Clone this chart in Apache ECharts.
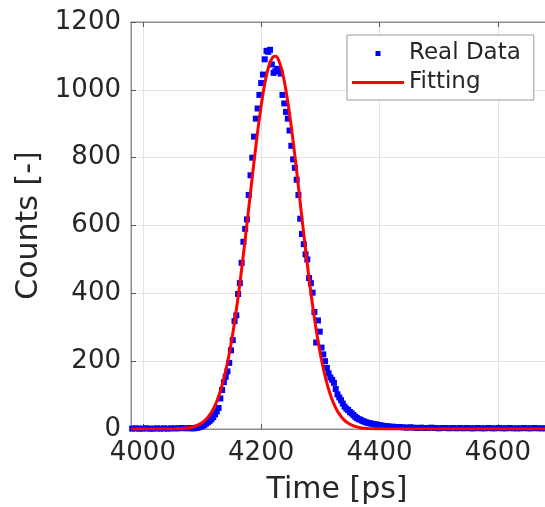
<!DOCTYPE html>
<html><head><meta charset="utf-8">
<script src="https://cdn.jsdelivr.net/npm/echarts@6/dist/echarts.min.js"></script>
<style>html,body{margin:0;padding:0;background:#fff}#c{width:545px;height:507px}</style>
</head><body><div id="c"></div>
<script>
// ---- data ----
const xTicks = [4000, 4200, 4400, 4600];
const yTicks = [0, 200, 400, 600, 800, 1000, 1200];

const dataTime = [3982,3988,3994,4000,4006,4012,4018,4024,4030,4036,4042,4048,4054,4060,4066,4072,4078,4082,
4086,4089,4092,4095,4098,4101,4104,4107,4110,4113,4116,4119,4122,4125,4128,4131,4134,4137,4140,4143,4146,4149,
4152,4155,4158,4161,4164,4167,4170,4173,4176,4179,4182,4185,4188,4191,4194,4197,4200,4203,4206,4209,4212,4215,
4218,4221,4224,4227,4230,4233,4236,4239,4242,4245,4248,4251,4254,4257,4260,4263,4266,4269,4272,4275,4278,4281,
4284,4287,4290,4293,4296,4299,4302,4305,4308,4311,4314,4317,4320,4323,4326,4329,4332,4335,4338,4341,4344,4347,
4350,4353,4356,4359,4362,4365,4368,4371,4374,4377,4380,4383,4386,4389,4392,4395,4398,4401,4404,4407,4410,4413,4416,
4422,4428,4434,4440,4446,4452,4458,4464,4470,4476,4482,4488,4494,4500,4506,4512,4518,4524,4530,4536,4542,4548,
4554,4560,4566,4572,4578,4584,4590,4596,4602,4608,4614,4620,4626,4632,4638,4644,4650,4656,4662,4668,4674,4680,
4686,4692,4698];
const dataCounts = [1,2,1,1,2,1,1,2,1,2,1,2,2,2,3,2,3,2,
2,3,4,5,7,9,12,16,20,24,29,35,43,52,62,90,115,138,154,170,195,232,
262,318,335,398,430,490,552,590,618,690,748,800,862,915,945,985,1020,1045,1090,1115,1112,1118,
1075,1050,1055,1062,1060,1048,985,960,935,915,880,835,795,770,735,690,620,575,545,515,500,445,
430,402,345,255,320,287,240,220,200,180,164,152,145,136,118,102,93,85,75,66,60,56,
50,46,41,36,32,29,27,24,22,20,18,17,16,15,14,13,12,11,10,9,8,8,7,
7,6,6,5,4,5,4,3,4,3,3,4,3,2,3,3,2,3,2,3,2,3,
2,2,3,2,2,3,2,2,3,2,2,3,2,2,2,3,2,2,3,2,2,2,
3,2,2];

const fitTime = [3980,4000,4020,4040,4060,4070,4080,4090,4100,4105,4110,4115,4120,4125,4130,4135,4140,4145,4150,
4155,4160,4165,4170,4175,4180,4185,4190,4195,4200,4205,4210,4215,4220,4225,4230,4235,4240,4245,4250,4255,4260,
4265,4270,4275,4280,4285,4290,4295,4300,4305,4310,4315,4320,4325,4330,4340,4350,4360,4370,4380,4390,4400,4450,
4500,4600,4700];
const fitCounts = [0,0,0,0.1,0.8,2,4.4,9.2,18,25.5,35,47,62,82,106,136,171,212,260,
315,376,443,515,590,667,744,819,890,953,1008,1051,1081,1097,1099,1085,1058,1017,965,903,834,760,
683,605,529,457,389,327,271,221,179,142,112,86,66,50,27,14,7,3,1.4,0.6,0.3,0,
0,0,0];

const seriesNames = ['Real Data', 'Fitting'];
const xTitle = 'Time [ps]';
const yTitle = 'Counts [-]';

// ---- chart ----
const FONT = 'DejaVu Sans';
const TXT = '#262626';
const AX = '#8c8c8c';
const GRIDC = '#e3e3e3';

const chart = echarts.init(document.getElementById('c'), null, {renderer: 'canvas'});
chart.setOption({
  animation: false,
  backgroundColor: '#fff',
  textStyle: {fontFamily: FONT},
  grid: {left: 131, top: 22, bottom: 78, right: -12, outerBoundsMode: 'none', containLabel: false,
         show: true, borderColor: AX, borderWidth: 1, backgroundColor: 'transparent'},
  legend: {
    orient: 'vertical', left: 347, top: 35,
    padding: [7, 13, 6, 5], itemGap: 6, itemWidth: 52, itemHeight: 5,
    backgroundColor: '#fff', borderColor: '#999', borderWidth: 1,
    textStyle: {fontFamily: FONT, fontSize: 23, color: TXT, lineHeight: 23},
    data: [
      {name: seriesNames[0], icon: 'path://M0,0H1V1H0Z'},
      {name: seriesNames[1], icon: 'path://M0,0H52V3H0Z'}
    ]
  },
  xAxis: [{
    type: 'value', min: 3980, max: 4700,
    name: xTitle, nameLocation: 'middle', nameGap: 46,
    nameTextStyle: {fontFamily: FONT, fontSize: 30, color: TXT, padding: [0, 14, 0, 0]},
    axisLine: {show: true, lineStyle: {color: AX, width: 1}},
    axisTick: {show: true, inside: true, length: 5, customValues: xTicks, lineStyle: {color: '#555'}},
    axisLabel: {customValues: xTicks, fontFamily: FONT, fontSize: 26, color: TXT, margin: 11, formatter: v => String(v)},
    splitLine: {show: true, lineStyle: {color: GRIDC, width: 1}}
  }, {
    type: 'value', position: 'top', min: 3980, max: 4700,
    axisLine: {show: true, lineStyle: {color: AX, width: 1}},
    axisTick: {show: true, inside: true, length: 5, customValues: xTicks, lineStyle: {color: '#555'}},
    axisLabel: {show: false, customValues: xTicks},
    splitLine: {show: false}
  }],
  yAxis: [{
    type: 'value', min: 0, max: 1200, interval: 200,
    name: yTitle, nameLocation: 'middle', nameGap: 76,
    nameTextStyle: {fontFamily: FONT, fontSize: 30, color: TXT},
    axisLine: {show: true, lineStyle: {color: AX, width: 1}},
    axisTick: {show: true, inside: true, length: 5, lineStyle: {color: '#555'}},
    axisLabel: {fontFamily: FONT, fontSize: 26, color: TXT, margin: 10, formatter: v => String(v)},
    splitLine: {show: true, lineStyle: {color: GRIDC, width: 1}}
  }],
  series: [{
    name: seriesNames[0], type: 'scatter', xAxisIndex: 0, yAxisIndex: 0,
    symbol: 'rect', symbolSize: 6,
    itemStyle: {color: '#0000ff', opacity: 1},
    data: dataTime.map((t, i) => [t, dataCounts[i]]),
    z: 2
  }, {
    name: seriesNames[1], type: 'line', xAxisIndex: 0, yAxisIndex: 0,
    showSymbol: false, symbol: 'none', smooth: 0.3,
    itemStyle: {color: '#ff0000'},
    lineStyle: {color: '#ff0000', width: 3},
    data: fitTime.map((t, i) => [t, fitCounts[i]]),
    z: 3
  }]
});
</script>
</body></html>
